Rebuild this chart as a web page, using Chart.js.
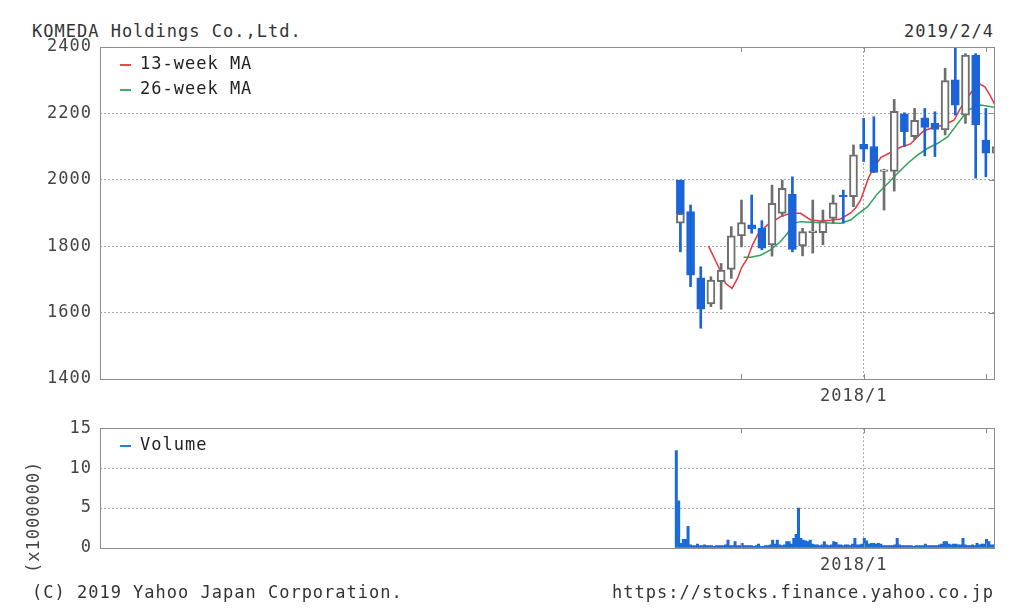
<!DOCTYPE html>
<html>
<head>
<meta charset="utf-8">
<script src="https://cdn.jsdelivr.net/npm/chart.js@4.4.0/dist/chart.umd.min.js"></script>
<style>
  body { margin:0; background:#fff; width:1024px; height:616px; position:relative; overflow:hidden;
         font-family:'DejaVu Sans Mono', monospace; font-size:17px; letter-spacing:1px; color:#333; }
  .t { position:absolute; line-height:18px; white-space:nowrap; }
  canvas { position:absolute; left:0; }
  #unit { left:-23px; top:508px; width:112px; text-align:center; transform:rotate(-90deg); color:#444; }
</style>
</head>
<body>
<div class="t" style="left:32px;top:22px">KOMEDA Holdings Co.,Ltd.</div>
<div class="t" style="right:30px;top:22px">2019/2/4</div>
<canvas id="price" width="1024" height="410" style="top:0"></canvas>
<canvas id="volume" width="1024" height="175" style="top:410px"></canvas>
<div class="t" id="unit">(x1000000)</div>
<div class="t" style="left:32px;top:583px">(C) 2019 Yahoo Japan Corporation.</div>
<div class="t" style="right:30px;top:583px">https://stocks.finance.yahoo.co.jp</div>
<script>
// monthly candles (first entry is the listing-day candle drawn under July)
const months = ['2016/7','2016/7','2016/8','2016/9','2016/10','2016/11','2016/12',
  '2017/1','2017/2','2017/3','2017/4','2017/5','2017/6','2017/7','2017/8','2017/9','2017/10','2017/11','2017/12',
  '2018/1','2018/2','2018/3','2018/4','2018/5','2018/6','2018/7','2018/8','2018/9','2018/10','2018/11','2018/12',
  '2019/1','2019/2'];
const opens  = [1869,1999,1904,1705,1626,1693,1730, 1831,1864,1854,1804,1899,1957,1801,1841,1841,1884,1954,1949,
                2107,2100,2025,2025,2199,2130,2187,2170,2150,2301,2195,2376, 2120,2080];
const highs  = [1899,1999,1924,1738,1708,1748,1859, 1939,1954,1877,1984,1999,2009,1854,1939,1909,1954,1969,2105,
                2185,2190,2032,2242,2202,2215,2215,2205,2336,2420,2380,2380, 2215,2110];
const lows   = [1869,1783,1678,1553,1618,1610,1703, 1798,1839,1789,1770,1889,1783,1771,1779,1804,1869,1869,1919,
                2055,2022,1909,1966,2100,2121,2072,2070,2135,2195,2170,2005, 2009,2060];
const closes = [1899,1899,1713,1610,1698,1728,1831, 1871,1852,1794,1929,1974,1790,1844,1846,1874,1931,1949,2075,
                2092,2022,2030,2206,2145,2179,2158,2152,2299,2225,2376,2165, 2080,2100];

// moving averages, x in months since 2017/1
const ma13X = [-3.25,-2.26,-1.57,-0.93,-0.39,0,0.59,1.08,1.67,2.56,3.84,4.82,5.8,6.79,7.77,8.75,9.74,10.72,
               11.2,11.7,12.5,13.0,13.7,14.7,15.6,16.6,17.3,17.9,18.9,19.9,20.9,21.4,21.9,22.6,23.3,23.9,24.4,24.9];
const ma13  = [1801,1738,1688,1673,1703,1735,1764,1804,1839,1864,1889,1899,1899,1879,1876,1878,1882,1900,
               1915,1939,2008,2036,2068,2083,2098,2108,2130,2148,2158,2165,2180,2210,2235,2265,2290,2280,2255,2225];
const ma26X = [0.2,0.89,1.87,2.85,3.84,4.52,5.11,5.8,7.77,9.74,10.72,11.51,12.39,13.38,14.36,15.34,16.33,
               17.31,18.29,19.28,20.26,21.25,22.23,23.51,24.9];
const ma26  = [1767,1767,1773,1789,1814,1839,1869,1874,1871,1869,1879,1899,1919,1959,1989,2020,2050,
               2075,2095,2110,2130,2170,2210,2225,2218];

// weekly volume (x1,000,000), first week = listing week
const volFirstWeek = -6.4;
const volume = [12.2,5.9,0.6,1.1,1.1,2.7,0.4,0.3,0.3,0.5,0.3,0.3,0.4,0.3,0.3,0.3,0.2,0.3,0.3,0.3,
  0.3,0.4,1.0,0.3,0.3,0.8,0.3,0.3,0.6,0.3,0.3,0.3,0.3,0.2,0.3,0.5,0.2,0.2,0.3,0.3,
  0.4,1.0,0.5,1.0,0.4,0.3,0.4,0.8,0.8,0.5,1.2,1.7,5.0,1.2,1.0,0.9,0.8,1.0,0.5,0.4,
  0.4,0.3,0.4,0.8,0.4,0.3,0.4,0.8,0.7,0.4,0.4,0.3,0.4,0.4,0.3,0.5,1.2,0.4,0.4,0.5,
  1.2,0.9,0.5,0.6,0.6,0.5,0.6,0.5,0.3,0.3,0.3,0.3,0.3,0.4,1.2,0.4,0.3,0.3,0.3,0.3,
  0.3,0.2,0.3,0.3,0.3,0.3,0.5,0.3,0.3,0.3,0.3,0.3,0.4,0.5,0.8,0.8,0.5,0.4,0.5,0.5,
  0.4,0.4,1.2,0.4,0.3,0.3,0.4,0.3,0.6,0.4,0.5,0.5,1.1,0.8,0.4,0.4];

const xTicks = [0, 12, 24];   // 2017/1, 2018/1, 2019/1
const BLUE = '#1a64d8';
const GRAY = '#6e6e6e';

const toIdx = s => { const [y, m] = s.split('/').map(Number); return (y - 2017) * 12 + (m - 1); };
const up = closes.map((c, i) => c >= opens[i]);

Chart.defaults.font = { family: "'DejaVu Sans Mono', monospace", size: 17 };
Chart.defaults.color = '#444';

const frame = {
  id: 'frame',
  beforeDraw(chart) { chart.ctx.letterSpacing = '1px'; },
  afterDatasetsDraw(chart, args, opts) {
    const { ctx, chartArea: a, scales: { x, y } } = chart;
    ctx.save();
    ctx.strokeStyle = '#8c8c8c';
    ctx.lineWidth = 1;
    ctx.strokeRect(Math.round(a.left) + 0.5, Math.round(a.top) + 0.5, Math.round(a.width), Math.round(a.height));
    ctx.beginPath();
    xTicks.forEach(v => {
      const px = Math.round(x.getPixelForValue(v)) + 0.5;
      ctx.moveTo(px, a.top); ctx.lineTo(px, a.top + 5);
      ctx.moveTo(px, a.bottom); ctx.lineTo(px, a.bottom - 5);
    });
    y.ticks.forEach(t => {
      const py = Math.round(y.getPixelForValue(t.value)) + 0.5;
      ctx.moveTo(a.right, py); ctx.lineTo(a.right - 5, py);
    });
    ctx.stroke();
    // legend
    ctx.font = "17px 'DejaVu Sans Mono', monospace";
    ctx.textBaseline = 'middle';
    opts.items.forEach((it, i) => {
      const ly = Math.round(a.top + 18 + i * 25);
      ctx.fillStyle = it.color;
      ctx.fillRect(a.left + 20, ly - 1, 11, 2);
      ctx.fillStyle = '#222';
      ctx.fillText(it.text, a.left + 40, ly);
    });
    ctx.restore();
  }
};

const xScale = (h) => ({
  type: 'linear', min: -63, max: 24.8, offset: false,
  afterBuildTicks: s => { s.ticks = xTicks.map(v => ({ value: v })); },
  afterFit: s => { s.height = h; },
  ticks: { autoSkip: false, maxRotation: 0, padding: 7, labelOffset: -10,
           callback: v => v === 12 ? '2018/1' : '' },
  grid: { drawTicks: false, offset: false, color: c => c.tick && c.tick.value === 12 ? '#a8a8a8' : 'rgba(0,0,0,0)' },
  border: { display: false, dash: [2, 2] }
});

const yScale = (min, max, step) => ({
  min, max,
  afterFit: s => { s.width = 100; },
  ticks: { stepSize: step, padding: 8, callback: v => String(v) },
  grid: { drawTicks: false, color: c => c.tick && c.tick.value > min && c.tick.value < max ? '#a8a8a8' : 'rgba(0,0,0,0)' },
  border: { display: false, dash: [2, 2] }
});

new Chart(document.getElementById('price'), {
  data: {
    datasets: [
      { type: 'line', data: ma13X.map((x, i) => ({ x, y: ma13[i] })), borderColor: '#e8383d', borderWidth: 1.5, pointRadius: 0, order: 3 },
      { type: 'line', data: ma26X.map((x, i) => ({ x, y: ma26[i] })), borderColor: '#2aa55a', borderWidth: 1.5, pointRadius: 0, order: 3 },
      { type: 'bar', data: months.map((m, i) => ({ x: toIdx(m), y: [lows[i], highs[i]] })),
        backgroundColor: up.map(u => u ? GRAY : BLUE), barThickness: 2, grouped: false, order: 2 },
      { type: 'bar', data: months.map((m, i) => ({ x: toIdx(m), y: [opens[i], closes[i]] })),
        backgroundColor: up.map(u => u ? '#fff' : BLUE), borderColor: up.map(u => u ? GRAY : BLUE),
        borderWidth: 2, borderSkipped: false, barThickness: 8, grouped: false, order: 1 }
    ]
  },
  options: {
    responsive: false, animation: false, events: [],
    layout: { padding: { top: 47, right: 30, left: 0, bottom: 0 } },
    scales: { x: xScale(31), y: yScale(1400, 2400, 200) },
    plugins: {
      legend: { display: false }, tooltip: { enabled: false },
      frame: { items: [{ text: '13-week MA', color: '#e84a4a' }, { text: '26-week MA', color: '#3cae6a' }] }
    }
  },
  plugins: [frame]
});

new Chart(document.getElementById('volume'), {
  data: {
    datasets: [
      { type: 'bar', data: volume.map((v, i) => ({ x: volFirstWeek + i * 12 / 52, y: v })),
        backgroundColor: '#1a6ad8', barPercentage: 1, categoryPercentage: 1, grouped: false }
    ]
  },
  options: {
    responsive: false, animation: false, events: [],
    layout: { padding: { top: 15, right: 30, left: 0, bottom: 0 } },
    scales: { x: xScale(37), y: yScale(0, 15, 5) },
    plugins: {
      legend: { display: false }, tooltip: { enabled: false },
      frame: { items: [{ text: 'Volume', color: '#2a7ae0' }] }
    }
  },
  plugins: [frame]
});
</script>
</body>
</html>
